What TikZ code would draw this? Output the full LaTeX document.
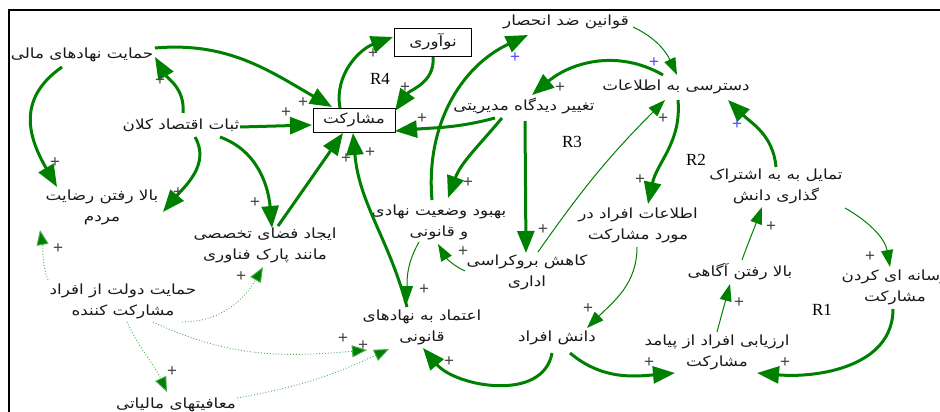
\documentclass[tikz,border=0pt]{standalone}
\usepackage{fontspec}
\setmainfont{Liberation Serif}
\newfontfamily\arfont[Script=Arabic,FakeStretch=1.2]{DejaVu Sans}
\newfontfamily\plusfont{Liberation Sans}
\TeXXeTstate=1
\usetikzlibrary{arrows.meta,calc}
\definecolor{cldgreen}{HTML}{008000}
\definecolor{cldlight}{HTML}{4CAF50}
\definecolor{plusgray}{HTML}{444444}
\definecolor{plusblue}{HTML}{4B4BFF}
\tikzset{
  var/.style={font=\arfont\fontsize{14}{21}\selectfont, align=center, inner sep=1pt, text=black!90},
  boxvar/.style={var, draw=black, line width=0.8pt, minimum height=24pt, inner sep=2pt},
  thick link/.style={draw=cldgreen, line width=3pt, -{Triangle[length=22pt,width=17pt]}},
  thin link/.style={draw=cldgreen, line width=1pt, -{Triangle[length=17pt,width=12pt]}},
  dot link/.style={draw=cldlight, line width=0.9pt, dotted, -{Triangle[length=15pt,width=12pt,fill=cldgreen]}},
  pl/.style={font=\plusfont\fontsize{17}{17}\selectfont, text=plusgray, inner sep=0pt},
  plb/.style={pl, text=plusblue},
  loop/.style={font=\fontsize{17}{17}\selectfont, inner sep=0pt}
}
\begin{document}
\begin{tikzpicture}[x=1pt,y=1pt]
\clip (0,0) rectangle (940,-412);
\fill[white] (0,0) rectangle (940,-412);
\draw[line width=2pt] (9,-420) -- (9,-10) -- (950,-10);
% nodes
\node[var] (hnm) at (82,-55) {\beginR حمایت نهادهای مالی\endR};
\node[var] (sek) at (181,-125) {\beginR ثبات اقتصاد کلان\endR};
\node[var] (brm) at (102,-207) {\beginR بالا رفتن رضایت\endR\\\beginR مردم\endR};
\node[var] (ift) at (265,-245) {\beginR ایجاد فضای تخصصی\endR\\\beginR مانند پارک فناوری\endR};
\node[var] (hdo) at (123,-301) {\beginR حمایت دولت از افراد\endR\\\beginR مشارکت کننده\endR};
\node[var] (mam) at (176,-405) {\beginR معافیتهای مالیاتی\endR};
\node[boxvar, minimum width=82pt] (mos) at (354,-120) {\beginR مشارکت\endR};
\node[boxvar, minimum width=77pt, minimum height=28pt] (nav) at (433,-42) {\beginR نوآوری\endR};
\node[var] (qza) at (566,-22) {\beginR قوانین ضد انحصار\endR};
\node[var] (tdm) at (524,-106) {\beginR تغییر دیدگاه مدیریتی\endR};
\node[var] (dse) at (676,-87) {\beginR دسترسی به اطلاعات\endR};
\node[var] (bvn) at (439,-222) {\beginR بهبود وضعیت نهادی\endR\\\beginR و قانونی\endR};
\node[var] (kbe) at (527,-272) {\beginR کاهش بروکراسی\endR\\\beginR اداری\endR};
\node[var] (eam) at (638,-225) {\beginR اطلاعات افراد در\endR\\\beginR مورد مشارکت\endR};
\node[var] (enq) at (422,-327) {\beginR اعتماد به نهادهای\endR\\\beginR قانونی\endR};
\node[var] (daf) at (557,-338) {\beginR دانش افراد\endR};
\node[var] (apm) at (717,-352) {\beginR ارزیابی افراد از پیامد\endR\\\beginR مشارکت\endR};
\node[var] (bra) at (740,-272) {\beginR بالا رفتن آگاهی\endR};
\node[var] (tbe) at (776,-186) {\beginR تمایل به به اشتراک\endR\\\beginR گذاری دانش\endR};
\node[var] (rkm) at (895,-287) {\beginR رسانه ای کردن\endR\\\beginR مشارکت\endR};
% loop labels
\node[loop] (r4) at (380,-79) {R4};
\node[loop] (r3) at (572,-142) {R3};
\node[loop] (r2) at (696,-160) {R2};
\node[loop] (r1) at (822,-310) {R1};
% thick links
\draw[thick link] ($(hnm)+(73,7)$) to[out=5,in=150] ($(mos)+(-22,13)$);
\draw[thick link] ($(hnm)+(-20,-12)$) to[out=215,in=120,looseness=1.2] ($(brm)+(-45,20)$);
\draw[thick link] ($(sek)+(2,12)$) to[out=85,in=-60] ($(hnm)+(73,-2)$);
\draw[thick link] ($(sek)+(59,-2)$) -- ($(mos)+(-42,-5)$);
\draw[thick link] ($(sek)+(14,-12)$) to[out=-60,in=50] ($(brm)+(61,-5)$);
\draw[thick link] ($(sek)+(39,-12)$) to[out=-20,in=95] ($(ift)+(7,17)$);
\draw[thick link] ($(ift)+(13,19)$) -- ($(mos)+(-11,-13)$);
\draw[thick link] ($(enq)+(-15,20)$) to[out=105,in=-85] ($(mos)+(-1,-13)$);
\draw[thick link] ($(mos)+(-14,12)$) to[out=100,in=200] ($(nav)+(-40,5)$);
\draw[thick link] ($(nav)+(0,-15)$) to[out=-85,in=55] ($(mos)+(41,9)$);
\draw[thick link] ($(tdm)+(-29,-12)$) to[out=195,in=5] ($(mos)+(41,-11)$);
\draw[thick link] ($(tdm)+(-22,-12)$) to[out=230,in=70] ($(bvn)+(9,24)$);
\draw[thick link] ($(tdm)+(1,-15)$) -- ($(kbe)+(-1,19)$);
\draw[thick link] ($(bvn)+(-7,22)$) to[out=95,in=205] ($(qza)+(-38,-13)$);
\draw[thick link] ($(dse)+(-13,12)$) to[out=150,in=40] ($(tdm)+(8,11)$);
\draw[thick link] ($(dse)+(2,-13)$) to[out=-85,in=78] ($(eam)+(10,21)$);
\draw[thick link] ($(tbe)+(0,19)$) to[out=95,in=-45] ($(dse)+(52,-13)$);
\draw[thick link] ($(rkm)+(-2,-22)$) to[out=-90,in=-5] ($(apm)+(40,-21)$);
\draw[thick link] ($(daf)+(13,-15)$) to[out=-40,in=185] ($(apm)+(-42,-21)$);
\draw[thick link] ($(daf)+(-5,-15)$) to[out=-100,in=-50] ($(enq)+(1,-21)$);
% thin links
\draw[thin link] ($(qza)+(67,-5)$) to[out=-25,in=115] ($(dse)+(1,12)$);
\draw[thin link] ($(kbe)+(11,20)$) to[out=55,in=225] ($(dse)+(-11,-13)$);
\draw[thin link] ($(kbe)+(-62,1)$) to[out=155,in=-60] ($(bvn)+(-1,-22)$);
\draw[thin link] ($(bvn)+(-20,-20)$) to[out=240,in=90] ($(enq)+(-15,24)$);
\draw[thin link] ($(tbe)+(69,-22)$) to[out=-30,in=100] ($(rkm)+(-5,20)$);
\draw[thin link] ($(apm)+(0,20)$) to[out=75,in=255] ($(bra)+(-10,-12)$);
\draw[thin link] ($(bra)+(2,12)$) to[out=70,in=250] ($(tbe)+(-14,-21)$);
\draw[thin link] ($(eam)+(-1,-22)$) to[out=-90,in=45] ($(daf)+(30,10)$);
% dotted links
\draw[dot link] ($(hdo)+(-75,21)$) to[out=110,in=-80] ($(brm)+(-62,-23)$);
\draw[dot link] ($(hdo)+(59,-21)$) to[out=0,in=-120] ($(ift)+(-2,-22)$);
\draw[dot link] ($(hdo)+(30,-21)$) to[out=-25,in=185] ($(enq)+(-55,-23)$);
\draw[dot link] ($(hdo)+(4,-21)$) to[out=-65,in=115] ($(mam)+(-9,13)$);
\draw[dot link] ($(mam)+(61,7)$) to[out=10,in=205] ($(enq)+(-33,-22)$);
% polarity signs
\node[pl] (p1) at (303,-103) {+};
\node[pl] (p2) at (286,-113) {+};
\node[pl] (p3) at (160,-81) {+};
\node[pl] (p4) at (55,-163) {+};
\node[pl] (p5) at (178,-193) {+};
\node[pl] (p6) at (255,-203) {+};
\node[pl] (p7) at (346,-159) {+};
\node[pl] (p8) at (370,-153) {+};
\node[pl] (p9) at (373,-54) {+};
\node[pl] (p10) at (405,-88) {+};
\node[pl] (p11) at (422,-119) {+};
\node[pl] (p12) at (468,-183) {+};
\node[pl] (p13) at (543,-230) {+};
\node[plb] (p14) at (515,-58) {+};
\node[pl] (p15) at (560,-88) {+};
\node[plb] (p16) at (654,-63) {+};
\node[pl] (p17) at (663,-119) {+};
\node[pl] (p18) at (640,-180) {+};
\node[plb] (p19) at (737,-125) {+};
\node[pl] (p20) at (463,-252) {+};
\node[pl] (p21) at (424,-290) {+};
\node[pl] (p22) at (588,-309) {+};
\node[pl] (p23) at (449,-362) {+};
\node[pl] (p24) at (649,-363) {+};
\node[pl] (p25) at (785,-363) {+};
\node[pl] (p26) at (739,-303) {+};
\node[pl] (p27) at (771,-227) {+};
\node[pl] (p28) at (870,-257) {+};
\node[pl] (p29) at (58,-249) {+};
\node[pl] (p30) at (241,-277) {+};
\node[pl] (p31) at (172,-372) {+};
\node[pl] (p32) at (343,-339) {+};
\node[pl] (p33) at (363,-346) {+};
\end{tikzpicture}
\end{document}
